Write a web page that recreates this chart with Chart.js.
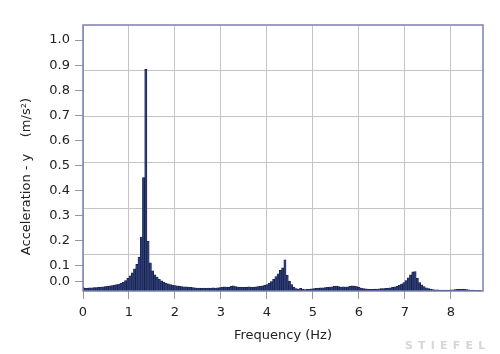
<!DOCTYPE html>
<html>
<head>
<meta charset="utf-8">
<script src="https://cdn.jsdelivr.net/npm/chart.js@4"></script>
<style>
  body { margin: 0; background: #fff; }
  #wrap { position: relative; width: 500px; height: 354px; }
  #mark {
    position: absolute; left: 405px; top: 339px;
    font: bold 11px "DejaVu Sans", sans-serif; letter-spacing: 5.2px;
    color: #d6d6d6;
  }
</style>
</head>
<body>
<div id="wrap">
  <canvas id="chartCanvas"></canvas>
  <div id="mark">STIEFEL</div>
</div>
<script>
// spectrum resolution (Hz per bar)
const binWidth = 0.0488;

// acceleration amplitude per frequency bin (m/s²)
const amplitudes = [
    0.016, 0.011, 0.012, 0.013, 0.013, 0.014, 0.014, 0.015, 0.016, 0.017,
    0.018, 0.019, 0.021, 0.022, 0.024, 0.026, 0.028, 0.032, 0.036, 0.042,
    0.050, 0.060, 0.072, 0.088, 0.106, 0.135, 0.215, 0.452, 0.883, 0.198,
    0.112, 0.080, 0.064, 0.055, 0.047, 0.041, 0.036, 0.032, 0.029, 0.026,
    0.024, 0.022, 0.021, 0.020, 0.018, 0.017, 0.017, 0.016, 0.015, 0.014,
    0.013, 0.012, 0.012, 0.011, 0.012, 0.011, 0.012, 0.012, 0.013, 0.012,
    0.013, 0.014, 0.015, 0.017, 0.016, 0.015, 0.019, 0.021, 0.018, 0.016,
    0.015, 0.016, 0.015, 0.016, 0.017, 0.016, 0.015, 0.017, 0.018, 0.019,
    0.021, 0.023, 0.026, 0.031, 0.038, 0.047, 0.057, 0.068, 0.082, 0.092,
    0.124, 0.062, 0.040, 0.026, 0.016, 0.010, 0.008, 0.011, 0.008, 0.006,
    0.007, 0.008, 0.009, 0.010, 0.011, 0.012, 0.013, 0.013, 0.014, 0.015,
    0.016, 0.017, 0.019, 0.020, 0.018, 0.016, 0.017, 0.016, 0.017, 0.019,
    0.021, 0.020, 0.018, 0.015, 0.012, 0.010, 0.009, 0.008, 0.007, 0.007,
    0.008, 0.008, 0.009, 0.010, 0.010, 0.011, 0.012, 0.013, 0.015, 0.017,
    0.020, 0.024, 0.028, 0.034, 0.042, 0.052, 0.064, 0.076, 0.077, 0.050,
    0.034, 0.025, 0.018, 0.013, 0.010, 0.008, 0.006, 0.005, 0.005, 0.004,
    0.004, 0.004, 0.004, 0.004, 0.005, 0.005, 0.006, 0.007, 0.007, 0.008,
    0.007, 0.006, 0.005, 0.004, 0.004, 0.003, 0.003, 0.003
];

const xTickValues = [0, 1, 2, 3, 4, 5, 6, 7, 8];
const yTickValues = [0, 0.1, 0.2, 0.3, 0.4, 0.5, 0.6, 0.7, 0.8, 0.9, 1.0];
const yTickLabels = ["0.0", "0.1", "0.2", "0.3", "0.4", "0.5", "0.6", "0.7", "0.8", "0.9", "1.0"];

const xMax = 8.7;
const yMax = 1.06;
const gridStep = 0.1833;   // horizontal grid is square with the 1 Hz columns
const zeroLabelLift = 0.036; // "0.0" sits a bit above the baseline

const points = amplitudes.map((a, i) => ({ x: i * binWidth, y: a }));

const font = { family: "DejaVu Sans", size: 13 };
const gridGray = "#c4c4c4";

// frame round the plot area
const frameBorder = {
    id: "frameBorder",
    afterDatasetsDraw(chart) {
        const { ctx, chartArea: a } = chart;
        ctx.save();
        ctx.strokeStyle = "#7c7fae";
        ctx.lineWidth = 1.5;
        ctx.strokeRect(a.left, a.top, a.right - a.left, a.bottom - a.top);
        ctx.restore();
    }
};

const ctx = document.getElementById("chartCanvas").getContext("2d");
new Chart(ctx, {
    type: "bar",
    data: {
        datasets: [{
            data: points,
            backgroundColor: "#2b3c78",
            borderColor: "#111a3a",
            borderWidth: 0.6,
            barPercentage: 1,
            categoryPercentage: 1,
            yAxisID: "y"
        }]
    },
    options: {
        responsive: true,
        maintainAspectRatio: false,
        animation: false,
        layout: { padding: { left: 0, top: 25, right: 17, bottom: 0 } },
        plugins: { legend: { display: false }, tooltip: { enabled: false } },
        scales: {
            x: {
                type: "linear",
                min: 0,
                max: xMax,
                offset: false,
                afterBuildTicks: s => { s.ticks = xTickValues.map(v => ({ value: v })); },
                afterFit: s => { s.height = 63; },
                grid: { offset: false, color: gridGray, tickColor: "#999", tickLength: 8 },
                border: { display: false },
                ticks: { font, color: "#222", padding: 6, autoSkip: false, maxRotation: 0,
                         callback: v => String(v) },
                title: { display: true, text: "Frequency (Hz)", font, color: "#222",
                         padding: { top: 0, bottom: 11 } }
            },
            y: {
                min: 0,
                max: yMax,
                afterBuildTicks: s => {
                    s.ticks = yTickValues.map(v => ({ value: v === 0 ? zeroLabelLift : v }));
                },
                afterFit: s => { s.width = 83; },
                grid: { drawOnChartArea: false, tickColor: "#999", tickLength: 8 },
                border: { display: false },
                ticks: { font, color: "#222", padding: 5,
                         callback: (v, i) => yTickLabels[i] },
                title: { display: true, text: "Acceleration - y    (m/s²)         ", font, color: "#222",
                         padding: { top: 19, bottom: 0 } }
            },
            grid2: {
                position: "right",
                min: 0,
                max: yMax,
                afterBuildTicks: s => {
                    const t = [];
                    for (let v = yMax - gridStep; v > 0; v -= gridStep) t.push({ value: v });
                    s.ticks = t;
                },
                afterFit: s => { s.width = 0; },
                grid: { color: gridGray, drawTicks: false },
                border: { display: false },
                ticks: { display: false }
            }
        }
    },
    plugins: [frameBorder]
});
</script>
</body>
</html>
